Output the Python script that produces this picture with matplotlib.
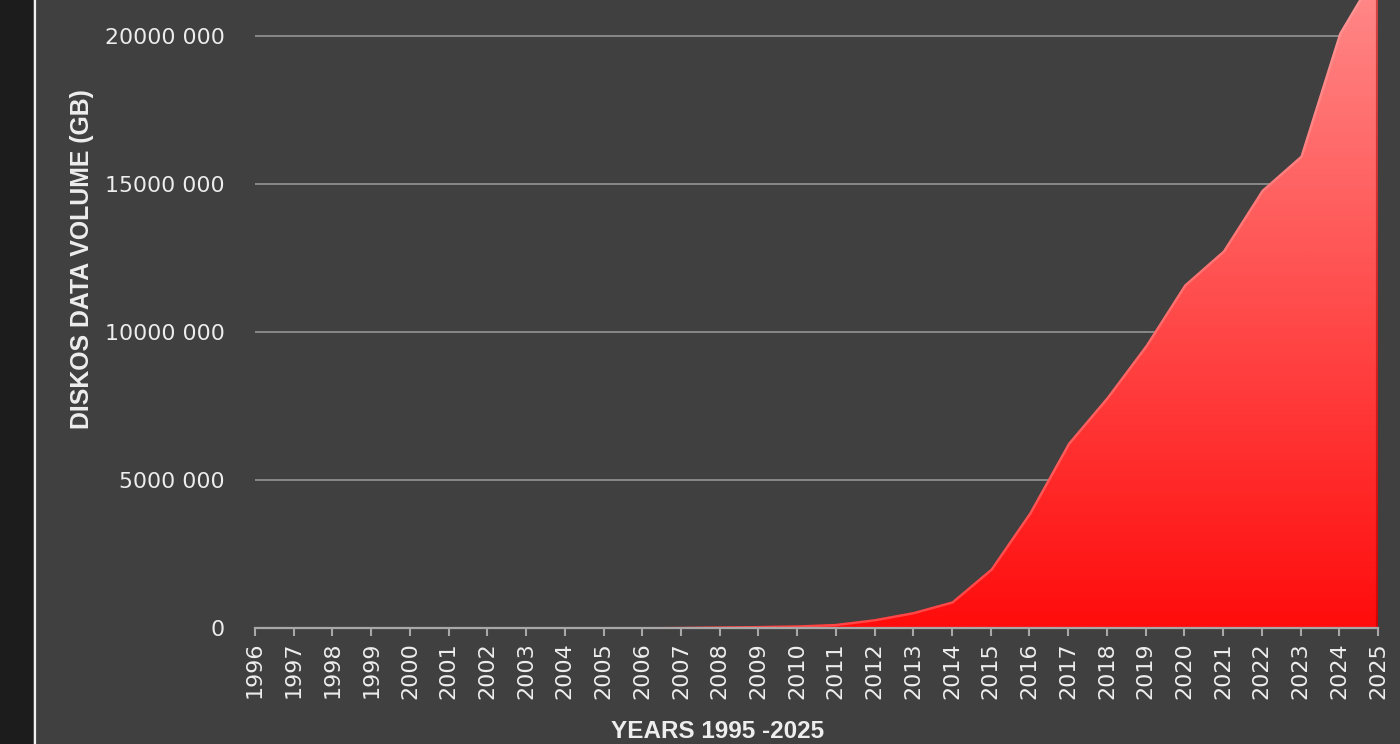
import numpy as np
import matplotlib
matplotlib.use("Agg")
import matplotlib.pyplot as plt
from matplotlib.colors import LinearSegmentedColormap
from matplotlib.patches import Rectangle
from matplotlib.lines import Line2D

# Diskos cumulative data volume per year (GB)
years = list(range(1996, 2026))
volume_gb = [0, 0, 0, 2000, 4000, 6000, 9000, 12000, 16000, 22000,
             30000, 40000, 55000, 70000, 90000, 140000, 300000, 540000, 900000, 2000000,
             3900000, 6250000, 7800000, 9550000, 11600000, 12750000, 14800000, 15950000, 20100000, 22300000]

ytick_values = [0, 5000000, 10000000, 15000000, 20000000]
ytick_labels = ["0", "5000 000", "10000 000", "15000 000", "20000 000"]
year_labels = [str(y) for y in years]

BG = "#404040"
STRIP = "#1c1c1c"
TEXT = "#eeeeee"

fig = plt.figure(figsize=(14, 7.44), dpi=100, facecolor=BG)

# dark strip and white rule on the left edge
fig.patches.append(Rectangle((0, 0), 33 / 1400, 1, transform=fig.transFigure,
                             facecolor=STRIP, edgecolor="none", zorder=0))
fig.lines.append(Line2D([34.5 / 1400, 34.5 / 1400], [0, 1], transform=fig.transFigure,
                        color="#f0f0f0", lw=1.6, zorder=1))

ax = fig.add_axes([255 / 1400, 1 - 628 / 744, (1378 - 255) / 1400, 628 / 744])
ax.set_facecolor(BG)

x = np.array(years, dtype=float)
y = np.array(volume_gb, dtype=float)
ymax = 21220000
ax.set_xlim(years[0], years[-1])
ax.set_ylim(0, ymax)

# gridlines
for v in ytick_values[1:]:
    ax.axhline(v, color="#8e8e8e", lw=1.3, zorder=1)

# gradient-filled area
poly = ax.fill_between(x, 0, y, facecolor="none", edgecolor="none", zorder=2)
cmap = LinearSegmentedColormap.from_list("red_grad", ["#ff0c0c", "#ff4a4a", "#ff8686"])
grad = np.linspace(0, 1, 512).reshape(-1, 1)
im = ax.imshow(grad, extent=[years[0], years[-1], 0, ymax], origin="lower",
               aspect="auto", cmap=cmap, zorder=2, interpolation="bilinear")
path = poly.get_paths()[0]
im.set_clip_path(path, transform=ax.transData)

# soft lighter band just inside the upper edge, darker right edge
edge, = ax.plot(x, y, color="#ffb0b0", lw=3.5, alpha=0.35, zorder=3, solid_joinstyle="round")
edge.set_clip_path(path, transform=ax.transData)
right, = ax.plot([x[-1], x[-1]], [0, y[-1]], color="#a00000", lw=3.0, alpha=0.5, zorder=3)
right.set_clip_path(path, transform=ax.transData)

for s in ["top", "right", "left"]:
    ax.spines[s].set_visible(False)
ax.spines["bottom"].set_color("#a8a8a8")
ax.spines["bottom"].set_linewidth(1.6)
ax.spines["bottom"].set_zorder(4)

ax.set_yticks(ytick_values)
ax.set_yticklabels(ytick_labels)
ax.set_xticks(years)
ax.set_xticklabels(year_labels, rotation=90)

ax.tick_params(axis="y", length=0, pad=22, labelsize=15.8, labelcolor=TEXT)
ax.tick_params(axis="x", length=6, width=1.5, color="#a8a8a8", pad=4,
               labelsize=16, labelcolor=TEXT, direction="out")
for lab in ax.get_xticklabels() + ax.get_yticklabels():
    lab.set_family("DejaVu Sans")

fig.text(82 / 1400, 1 - 259 / 744, "DISKOS DATA VOLUME (GB)", rotation=90,
         ha="center", va="center", color=TEXT, fontsize=17.9, fontweight="bold",
         family="Liberation Sans")
fig.text(718 / 1400, 1 / 744, "YEARS 1995 -2025", ha="center", va="bottom",
         color=TEXT, fontsize=17.5, fontweight="bold", family="Liberation Sans")

fig.savefig("out.png", dpi=100, facecolor=BG)
